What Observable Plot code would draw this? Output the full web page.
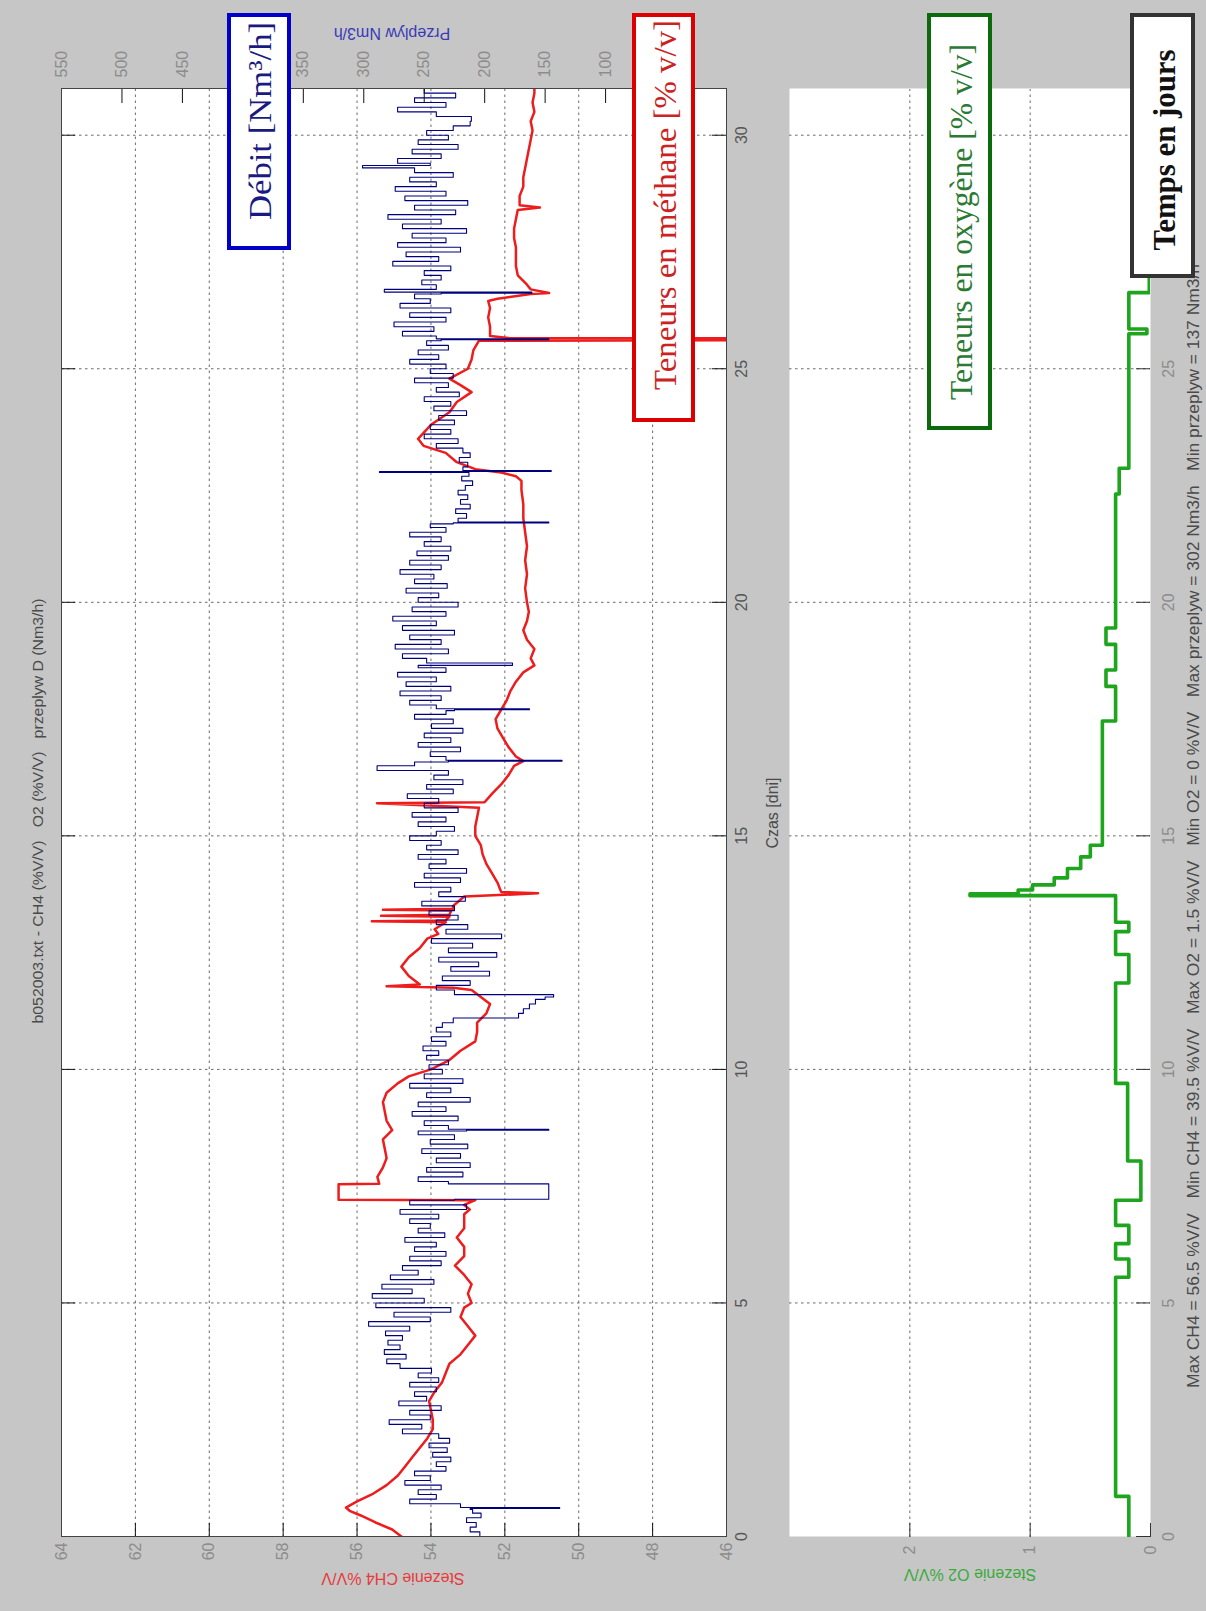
<!DOCTYPE html>
<html><head><meta charset="utf-8">
<script src="https://cdn.jsdelivr.net/npm/d3@7"></script>
<script src="https://cdn.jsdelivr.net/npm/@observablehq/plot@0.6"></script>
<style>
html,body{margin:0;padding:0;width:1206px;height:1611px;overflow:hidden;background:#c6c6c6;}
#fig{position:absolute;left:0;top:0;width:1611px;height:1206px;transform-origin:0 0;transform:translate(0,1611px) rotate(-90deg);background:#c6c6c6;}
#fig > svg{position:absolute;left:0;top:0;}
</style></head><body><div id="fig"></div>
<script>
// ---- data (time in days) ----
const timeTicks = [0,5,10,15,20,25,30];
const ch4Ticks = [46,48,50,52,54,56,58,60,62,64];
const flowTicks = [50,100,150,200,250,300,350,400,450,500,550];
const o2Ticks = [0,1,2];

const ch4 = [[0,54.8],[0.15,55.05],[0.3,55.5],[0.45,55.9],[0.55,56.2],[0.62,56.3],[0.75,56.0],[0.9,55.6],[1.1,55.2],[1.3,54.9],[1.5,54.7],[1.7,54.5],[1.9,54.3],[2.1,54.1],[2.3,53.95],[2.5,53.95],[2.7,54.0],[2.9,54.05],[3.1,53.9],[3.3,53.7],[3.5,53.6],[3.7,53.5],[3.9,53.2],[4.1,53.0],[4.3,52.8],[4.5,53.0],[4.7,53.2],[4.9,53.1],[5.0,52.9],[5.2,53.0],[5.4,52.9],[5.6,53.1],[5.8,53.35],[6.0,53.1],[6.2,53.1],[6.4,53.3],[6.6,53.1],[6.8,53.1],[6.9,53.1],[7.0,52.95],[7.1,53.1],[7.2,52.8],[7.21,56.5],[7.54,56.5],[7.55,55.4],[7.7,55.45],[7.9,55.3],[8.1,55.2],[8.3,55.25],[8.5,55.3],[8.7,55.05],[8.9,55.2],[9.1,55.25],[9.3,55.3],[9.5,55.2],[9.7,54.9],[9.85,54.6],[10.0,54.0],[10.2,53.5],[10.4,53.2],[10.6,52.8],[10.8,52.75],[11.0,52.75],[11.2,52.5],[11.4,52.4],[11.55,52.65],[11.7,52.9],[11.75,53.4],[11.78,55.2],[11.82,54.3],[12.0,54.6],[12.2,54.8],[12.4,54.6],[12.6,54.3],[12.8,54.1],[12.9,53.8],[13.0,53.9],[13.15,53.6],[13.17,55.6],[13.19,53.6],[13.27,53.5],[13.29,55.35],[13.31,53.5],[13.4,53.45],[13.42,55.3],[13.44,53.4],[13.5,53.4],[13.6,53.25],[13.7,53.1],[13.77,51.1],[13.8,52.1],[14.0,52.2],[14.2,52.35],[14.4,52.5],[14.6,52.6],[14.8,52.65],[15.0,52.8],[15.2,52.8],[15.4,52.75],[15.6,52.7],[15.7,55.46],[15.72,52.55],[15.9,52.35],[16.1,52.1],[16.3,51.9],[16.5,51.75],[16.6,51.5],[16.7,51.7],[16.9,51.9],[17.1,52.05],[17.3,52.2],[17.5,52.25],[17.7,52.1],[17.9,51.95],[18.1,51.85],[18.3,51.7],[18.5,51.5],[18.65,51.2],[18.8,51.3],[19.0,51.2],[19.2,51.4],[19.4,51.5],[19.6,51.4],[19.8,51.35],[20.0,51.4],[20.3,51.45],[20.6,51.4],[20.9,51.45],[21.2,51.4],[21.5,51.45],[21.8,51.5],[22.1,51.5],[22.4,51.55],[22.6,51.55],[22.7,51.7],[22.78,52.1],[22.85,52.8],[23.0,53.3],[23.2,53.6],[23.35,54.2],[23.5,54.35],[23.8,54.0],[24.07,53.5],[24.29,53.3],[24.5,52.9],[24.65,53.2],[24.79,53.5],[25.0,53.0],[25.2,52.9],[25.4,52.85],[25.6,52.7],[25.62,39.5],[25.64,39.5],[25.66,51.9],[25.7,52.4],[25.9,52.4],[26.1,52.45],[26.3,52.4],[26.45,52.45],[26.5,52.2],[26.6,51.3],[26.62,50.8],[26.7,51.3],[26.8,51.4],[27.0,51.65],[27.2,51.7],[27.4,51.7],[27.6,51.7],[27.8,51.75],[28.0,51.75],[28.2,51.7],[28.4,51.65],[28.45,51.05],[28.5,51.6],[28.7,51.6],[28.9,51.5],[29.1,51.5],[29.3,51.45],[29.5,51.4],[29.7,51.35],[29.9,51.3],[30.1,51.25],[30.3,51.3],[30.5,51.2],[30.7,51.25],[30.9,51.2],[31.0,51.2]];

const flow = [[0,204],[0.1,212],[0.2,207],[0.3,215],[0.4,203],[0.5,210],[0.58,212],[0.6,138],[0.62,220],[0.7,262],[0.8,240],[0.9,255],[1.0,236],[1.1,266],[1.2,245],[1.3,258],[1.4,232],[1.5,240],[1.6,228],[1.7,243],[1.8,231],[1.9,246],[2.0,229],[2.1,238],[2.2,268],[2.3,252],[2.4,279],[2.5,245],[2.6,262],[2.7,236],[2.8,271],[2.9,248],[3.0,258],[3.1,240],[3.2,262],[3.3,238],[3.4,255],[3.5,244],[3.6,270],[3.7,281],[3.8,265],[3.9,283],[4.0,270],[4.1,280],[4.2,268],[4.3,282],[4.4,262],[4.5,296],[4.6,245],[4.7,275],[4.8,228],[4.9,290],[5.0,250],[5.1,293],[5.2,260],[5.3,285],[5.4,242],[5.5,278],[5.6,255],[5.7,268],[5.8,236],[5.9,262],[6.0,232],[6.1,258],[6.2,240],[6.3,266],[6.4,233],[6.5,255],[6.6,245],[6.7,262],[6.8,238],[6.9,270],[7.0,215],[7.1,262],[7.2,225],[7.22,147],[7.54,147],[7.55,230],[7.6,255],[7.7,218],[7.8,248],[7.9,212],[8.0,240],[8.1,220],[8.2,252],[8.3,214],[8.4,245],[8.5,225],[8.6,255],[8.68,215],[8.7,147],[8.72,230],[8.8,250],[8.9,222],[9.0,260],[9.1,232],[9.2,255],[9.3,212],[9.4,248],[9.5,228],[9.6,262],[9.7,218],[9.8,250],[9.9,235],[10.0,246],[10.1,230],[10.2,248],[10.3,238],[10.4,251],[10.5,232],[10.6,244],[10.7,228],[10.8,240],[10.9,235],[11.0,226],[11.1,172],[11.2,168],[11.3,163],[11.4,158],[11.5,150],[11.55,143],[11.6,225],[11.7,240],[11.8,212],[11.9,235],[12.0,196],[12.1,228],[12.2,205],[12.3,238],[12.4,190],[12.5,230],[12.6,210],[12.7,244],[12.8,186],[12.9,232],[13.0,214],[13.1,240],[13.2,222],[13.3,246],[13.4,225],[13.5,252],[13.6,216],[13.7,238],[13.8,228],[13.9,258],[14.0,220],[14.1,250],[14.2,215],[14.3,246],[14.4,232],[14.5,255],[14.6,222],[14.7,248],[14.8,236],[14.9,262],[15.0,240],[15.1,225],[15.2,255],[15.3,232],[15.4,260],[15.5,222],[15.6,250],[15.7,238],[15.8,264],[15.9,226],[16.0,248],[16.1,218],[16.2,242],[16.3,230],[16.4,289],[16.5,258],[16.58,230],[16.6,136],[16.62,232],[16.7,245],[16.8,220],[16.9,255],[17.0,228],[17.1,250],[17.2,218],[17.3,244],[17.4,226],[17.5,258],[17.6,232],[17.68,225],[17.7,163],[17.72,240],[17.8,262],[17.9,236],[18.0,270],[18.1,228],[18.2,265],[18.3,240],[18.4,272],[18.5,232],[18.6,255],[18.65,177],[18.7,248],[18.8,268],[18.9,230],[19.0,274],[19.1,236],[19.2,262],[19.3,225],[19.4,268],[19.5,240],[19.6,276],[19.7,232],[19.8,260],[19.9,222],[20.0,255],[20.1,238],[20.2,265],[20.3,231],[20.4,258],[20.5,242],[20.6,270],[20.7,236],[20.8,262],[20.9,230],[21.0,256],[21.1,228],[21.2,250],[21.3,236],[21.4,262],[21.5,232],[21.6,245],[21.68,226],[21.7,147],[21.72,222],[21.8,215],[21.9,224],[22.0,212],[22.1,220],[22.2,214],[22.3,222],[22.4,216],[22.5,210],[22.6,219],[22.7,213],[22.78,287],[22.8,145],[22.82,218],[22.9,214],[23.0,221],[23.1,212],[23.2,218],[23.3,240],[23.4,222],[23.5,250],[23.6,228],[23.7,245],[23.8,225],[23.9,238],[24.0,215],[24.1,242],[24.2,228],[24.3,250],[24.4,221],[24.5,240],[24.6,230],[24.7,258],[24.8,226],[24.9,245],[25.0,232],[25.1,262],[25.2,238],[25.3,255],[25.4,230],[25.5,248],[25.6,236],[25.62,147],[25.64,240],[25.7,268],[25.8,242],[25.9,275],[26.0,232],[26.1,262],[26.2,228],[26.3,270],[26.4,245],[26.5,258],[26.6,236],[26.62,161],[26.64,283],[26.7,240],[26.8,252],[26.9,236],[27.0,250],[27.1,228],[27.2,276],[27.3,238],[27.4,265],[27.5,220],[27.6,272],[27.7,232],[27.8,260],[27.9,215],[28.0,268],[28.1,236],[28.2,280],[28.3,224],[28.4,258],[28.5,214],[28.6,266],[28.7,232],[28.8,274],[28.9,240],[29.0,262],[29.1,226],[29.2,258],[29.3,301],[29.35,245],[29.4,272],[29.5,236],[29.6,260],[29.7,222],[29.8,255],[29.9,230],[30.0,248],[30.1,226],[30.2,212],[30.3,211],[30.4,240],[30.5,272],[30.6,232],[30.7,258],[30.8,224],[30.9,250],[31.0,242]];

const o2 = [[0,0.18],[0.86,0.29],[5.55,0.18],[5.94,0.29],[6.27,0.18],[6.66,0.29],[7.2,0.08],[8.04,0.19],[9.7,0.29],[11.85,0.18],[12.46,0.29],[12.95,0.18],[13.15,0.29],[13.72,1.5],[13.76,1.1],[13.84,0.98],[13.95,0.8],[14.1,0.69],[14.3,0.58],[14.55,0.5],[14.8,0.4],[17.46,0.29],[18.2,0.37],[18.55,0.29],[19.1,0.37],[19.45,0.29],[22.32,0.26],[22.87,0.18],[25.75,0.03],[25.85,0.18],[26.63,0.01],[31,0.01]];

// ---- layout (unrotated figure, rotated by CSS) ----
const W = 1611, H = 1206, mL = 74, mR = 89;
const upTop = 61, upBottom = 480, loTop = 789, loBottom = 56;
const frameW = W - mL - mR, upH = H - upTop - upBottom, loH = H - loTop - loBottom, tk = 14;
const sans = "'Liberation Sans', Arial, sans-serif";
const common = {width: W, height: H, marginLeft: mL, marginRight: mR,
  style: {background: "transparent", fontFamily: sans, fontSize: "16px", overflow: "visible"}};
const grid = {stroke: "#6a6a6a", strokeDasharray: "2.5,3.5", strokeWidth: 1};
const tkGray = "#8c8c8c";
const fmt = d => String(d);

const upper = Plot.plot({...common, marginTop: upTop, marginBottom: upBottom,
  x: {domain: [0, 31]}, y: {domain: [46, 64]},
  marks: [
    Plot.frame({fill: "white", stroke: null}),
    Plot.ruleX(timeTicks.filter(d => d > 0), grid),
    Plot.ruleY(ch4Ticks.filter(d => d > 46 && d < 64), grid),
    Plot.line(ch4, {x: d => d[0], y: d => d[1], stroke: "#ee1c1c", strokeWidth: 2.5, clip: true}),
    Plot.axisY({anchor: "left", ticks: ch4Ticks, tickFormat: fmt, tickSize: 0, tickPadding: 6, label: null, fill: tkGray, fontSize: 16}),
    Plot.axisX({anchor: "bottom", ticks: timeTicks, tickFormat: fmt, tickSize: 0, tickPadding: 9, label: null, fill: "#555", fontSize: 16}),
    Plot.tickY(ch4Ticks, {stroke: "#111", insetRight: frameW - tk}),
    Plot.tickX(timeTicks, {stroke: "#111", insetTop: upH - tk}),
    Plot.tickX(timeTicks, {stroke: "#111", insetBottom: upH - tk})
  ]});

const flowPlot = Plot.plot({...common, marginTop: upTop, marginBottom: upBottom,
  x: {domain: [0, 31], axis: null}, y: {domain: [0, 550]},
  marks: [
    Plot.line(flow, {x: d => d[0], y: d => d[1], stroke: "#00007e", strokeWidth: 1.1, curve: "step-after", clip: true}),
    Plot.axisY({anchor: "right", ticks: flowTicks, tickFormat: fmt, tickSize: 0, tickPadding: 11, label: null, fill: tkGray, fontSize: 16}),
    Plot.tickY(flowTicks, {stroke: "#111", insetLeft: frameW - tk}),
    Plot.frame({stroke: "#444"})
  ]});

const lower = Plot.plot({...common, marginTop: loTop, marginBottom: loBottom,
  x: {domain: [0, 31]}, y: {domain: [0, 3]},
  marks: [
    Plot.frame({fill: "white", stroke: null}),
    Plot.ruleX(timeTicks.filter(d => d > 0), grid),
    Plot.ruleY(o2Ticks.filter(d => d > 0), grid),
    Plot.line(o2, {x: d => d[0], y: d => d[1], stroke: "#1ea51e", strokeWidth: 3.6, curve: "step-after", clip: true}),
    Plot.axisY({anchor: "left", ticks: o2Ticks, tickFormat: fmt, tickSize: 0, tickPadding: 9, label: null, fill: tkGray, fontSize: 16}),
    Plot.axisX({anchor: "bottom", ticks: timeTicks, tickFormat: fmt, tickSize: 0, tickPadding: 12, label: null, fill: tkGray, fontSize: 16}),
    Plot.tickX(timeTicks, {stroke: "#333", insetTop: loH - tk}),
    Plot.tickY(o2Ticks, {stroke: "#333", insetRight: frameW - tk})
  ]});

const fig = document.getElementById("fig");
fig.append(upper, flowPlot, lower);

// ---- annotation layer ----
const ann = d3.select(fig).append("svg").attr("width", W).attr("height", H);
function label(txt, x, y, o) {
  const t = ann.append("text").attr("x", x).attr("y", y).text(txt)
    .attr("text-anchor", "middle").attr("dominant-baseline", "central")
    .attr("font-family", o.family || sans).attr("font-size", o.size || 15)
    .attr("fill", o.fill || "#444").style("white-space", "pre");
  if (o.weight) t.attr("font-weight", o.weight);
  if (o.len) t.attr("textLength", o.len).attr("lengthAdjust", "spacingAndGlyphs");
  if (o.rot) t.attr("transform", `rotate(${o.rot},${x},${y})`);
  return t;
}
label("b052003.txt - CH4 (%V/V)   O2 (%V/V)   przeplyw D (Nm3/h)", 800, 37, {fill: "#4a4a4a", len: 425});
label("Czas [dni]", 798, 772, {fill: "#4a4a4a", size: 16});
label("Max CH4 = 56.5 %V/V   Min CH4 = 39.5 %V/V   Max O2 = 1.5 %V/V   Min O2 = 0 %V/V   Max przeplyw = 302 Nm3/h   Min przeplyw = 137 Nm3/h", 785, 1193, {fill: "#4a4a4a", size: 16, len: 1124});
label("Stezenie CH4 %V/V", 33, 393, {fill: "#e83a3a", size: 16, rot: -90});
label("Przeplyw Nm3/h", 1578, 392, {fill: "#3a3ab8", size: 16, rot: -90});
label("Stezenie O2 %V/V", 37, 970, {fill: "#3aaa3a", size: 16, rot: -90});

const serif = "'Liberation Serif', 'Times New Roman', serif";
const boxes = [
  {txt: "Débit [Nm³/h]", x: 1363, y: 229, w: 233, h: 60, stroke: "#0000c8", fill: "#1a1a80", cx: 1490, len: 198},
  {txt: "Teneurs en méthane [% v/v]", x: 1191, y: 634, w: 405, h: 59, stroke: "#dd0000", fill: "#cc2222", cx: 1406, len: 370},
  {txt: "Teneurs en oxygène [% v/v]", x: 1183, y: 929, w: 413, h: 61, stroke: "#0b6b0b", fill: "#2a7a34", cx: 1389, len: 356},
  {txt: "Temps en jours", x: 1335, y: 1132, w: 261, h: 61, stroke: "#333", fill: "#111", cx: 1461, len: 201, weight: "bold"}
];
for (const b of boxes) {
  ann.append("rect").attr("x", b.x).attr("y", b.y).attr("width", b.w).attr("height", b.h)
    .attr("fill", "white").attr("stroke", b.stroke).attr("stroke-width", 4);
  label(b.txt, b.cx, b.y + b.h / 2 + 1, {family: serif, size: 32, fill: b.fill, len: b.len, weight: b.weight});
}
</script></body></html>
